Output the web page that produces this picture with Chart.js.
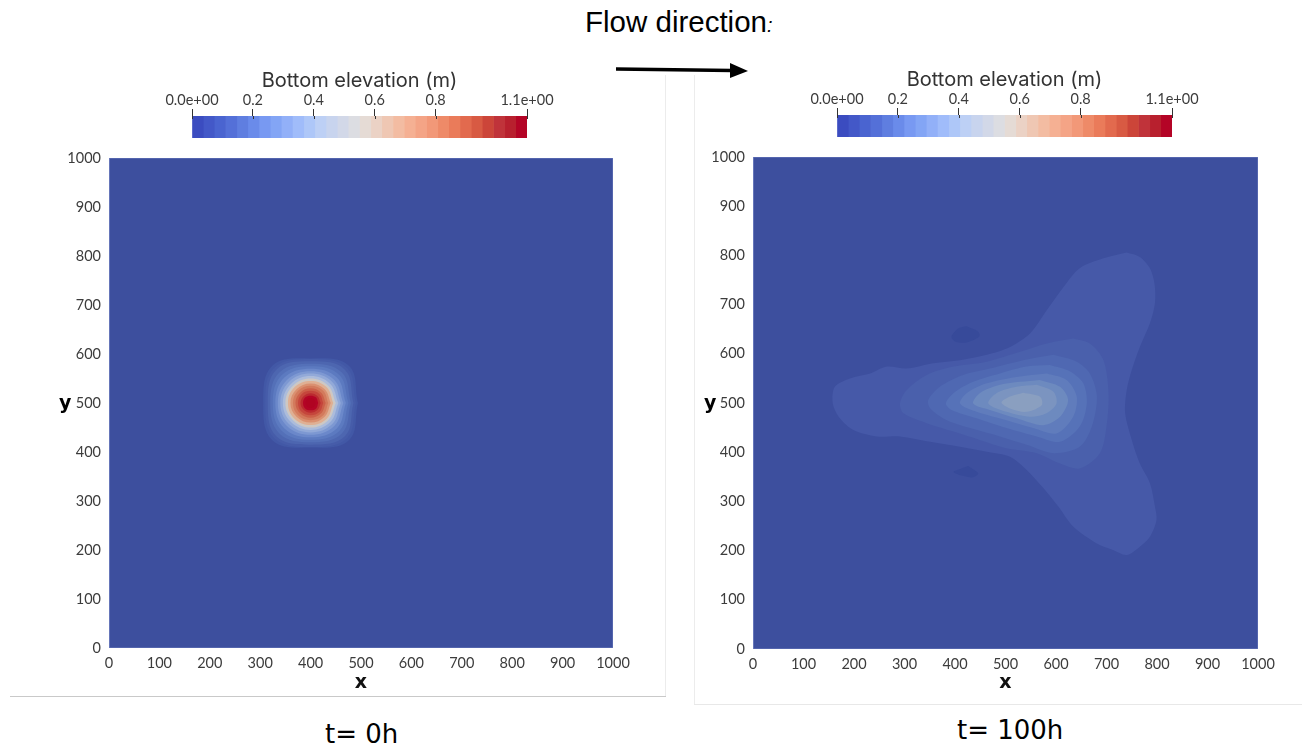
<!DOCTYPE html>
<html>
<head>
<meta charset="utf-8">
<title>Bottom elevation</title>
<script src="https://cdn.jsdelivr.net/npm/chart.js@4"></script>
<style>
  html, body { margin:0; padding:0; background:#fff; width:1302px; height:747px; overflow:hidden; }
  canvas { position:absolute; filter:blur(0.5px); }
  .txt { position:absolute; white-space:nowrap; color:#000; }
  .rule { position:absolute; }
</style>
</head>
<body>
<div class="rule" style="left:665px;top:75px;width:1px;height:621px;background:#ececec"></div>
<div class="rule" style="left:10px;top:696px;width:656px;height:1px;background:#c9c9c9"></div>
<div class="rule" style="left:694px;top:75px;width:1px;height:630px;background:#ececec"></div>
<div class="rule" style="left:694px;top:704px;width:608px;height:1px;background:#e8e8e8"></div>

<div class="txt" style="left:585px;top:5px;font:29.5px 'Liberation Sans'">Flow direction<span style="font-style:italic;font-size:20px">:</span></div>
<svg style="position:absolute;left:610px;top:58px" width="145" height="26">
  <line x1="6" y1="11" x2="122" y2="12.5" stroke="#000" stroke-width="3.5"/>
  <polygon points="120,5 138,13 120,20" fill="#000"/>
</svg>

<canvas id="barLeft" width="440" height="75" style="left:140px;top:65px"></canvas>
<canvas id="barRight" width="440" height="75" style="left:785px;top:64px"></canvas>
<canvas id="fieldLeft" width="575" height="550" style="left:55px;top:145px"></canvas>
<canvas id="fieldRight" width="575" height="550" style="left:700px;top:145px"></canvas>

<div class="txt" style="left:59px;top:391px;font:bold 19px 'DejaVu Sans'">y</div>
<div class="txt" style="left:704px;top:391px;font:bold 19px 'DejaVu Sans'">y</div>
<div class="txt" style="left:325px;top:719px;font:26px 'DejaVu Sans'">t= 0h</div>
<div class="txt" style="left:957px;top:715px;font:26px 'DejaVu Sans'">t= 100h</div>

<script>
const TICK_FONT = "Lato";

// colour bar
const barTitle = "Bottom elevation (m)";
const barTicks = [0, 0.2, 0.4, 0.6, 0.8, 1.1];
const barTickLabels = ["0.0e+00", "0.2", "0.4", "0.6", "0.8", "1.1e+00"];
const bandEdges = [0, .037, .073, .11, .147, .183, .22, .257, .293, .33, .367, .403, .44, .477, .513, .55,
  .587, .623, .66, .697, .733, .77, .807, .843, .88, .917, .953, .99, 1.027, 1.063, 1.1];
const bandColors = ["#3b4cc0","#4358c8","#4a64d0","#5470d8","#5f7ee0","#6a8bea","#7899f2","#83a5f5","#92b0f8","#a0bcfa",
  "#aec7f8","#bdd0f5","#c8d4ee","#d2d8e8","#dcdde2","#e5dbd5","#ebd2c5","#efc7b3","#f3bca2","#f5b093",
  "#f4a486","#f29878","#ee8a68","#ea7b5a","#e26a4e","#d85a43","#cc4539","#c0333a","#b8202e","#b40426"];

// axes of both fields
const axisTicks = [0, 100, 200, 300, 400, 500, 600, 700, 800, 900, 1000];
const domainOutline = [[0,0],[1000,0],[1000,1000],[0,1000],[0,0]];
const domainColor = "#3d4f9e";

// t = 0h, contours, outermost first
const t0Contours = [
  [[494,500],[476,576],[400,591],[324,576],[306,500],[324,424],[400,409],[476,424],[494,500]],
  [[490,500],[472,572],[400,590],[328,572],[310,500],[328,428],[400,410],[472,428],[490,500]],
  [[485,500],[468,568],[400,585],[332,568],[315,500],[332,432],[400,415],[468,432],[485,500]],
  [[480,500],[462,562],[400,580],[338,562],[320,500],[338,438],[400,420],[462,438],[480,500]],
  [[475,500],[457,557],[400,575],[343,557],[325,500],[343,443],[400,425],[457,443],[475,500]],
  [[470,500],[452,552],[400,570],[348,552],[330,500],[348,448],[400,430],[452,448],[470,500]],
  [[465,500],[447,547],[400,565],[353,547],[335,500],[353,453],[400,435],[447,453],[465,500]],
  [[460,500],[443,543],[400,560],[357,543],[340,500],[357,457],[400,440],[443,457],[460,500]],
  [[455,500],[439,539],[400,555],[361,539],[345,500],[361,461],[400,445],[439,461],[455,500]],
  [[450,500],[435,535],[400,550],[365,535],[350,500],[365,465],[400,450],[435,465],[450,500]],
  [[445,500],[432,532],[400,545],[368,532],[355,500],[368,468],[400,455],[432,468],[445,500]],
  [[440,500],[428,528],[400,540],[372,528],[360,500],[372,472],[400,460],[428,472],[440,500]],
  [[435,500],[425,525],[400,535],[375,525],[365,500],[375,475],[400,465],[425,475],[435,500]],
  [[430,500],[421,521],[400,530],[379,521],[370,500],[379,479],[400,470],[421,479],[430,500]],
  [[425,500],[418,518],[400,525],[382,518],[375,500],[382,482],[400,475],[418,482],[425,500]],
  [[420,500],[414,514],[400,520],[386,514],[380,500],[386,486],[400,480],[414,486],[420,500]],
  [[415,500],[411,511],[400,515],[389,511],[385,500],[389,489],[400,485],[411,489],[415,500]],
  [[410,500],[407,507],[400,510],[393,507],[390,500],[393,493],[400,490],[407,493],[410,500]]
];
const t0Colors = ["#4258a6","#465ca9","#4d66b0","#5470b8","#5c7ac0","#6b88ca","#7d98d2","#92a9d8","#acbcdb",
  "#cdc8c4","#dfb094","#da9070","#d37a5c","#cc6049","#c5463c","#bb2a30","#b40426","#b00322"];

// t = 100h, contours, outermost first
const t100Contours = [
  [[740,806],[766,797],[786,774],[795,743],[796,703],[786,662],[766,614],[750,567],[740,526],[737,479],[750,425],[766,377],
   [786,337],[796,289],[799,262],[786,228],[766,208],[740,191],[713,201],[680,215],[634,249],[605,289],[575,327],[542,364],[509,391],
   [463,401],[410,411],[351,421],[291,432],[245,432],[199,445],[172,469],[158,499],[162,533],[192,550],[232,560],[265,574],
   [304,570],[357,581],[410,587],[463,598],[509,614],[549,642],[582,689],[615,736],[647,774],[694,794],[740,806]],
  [[634,631],[667,621],[694,587],[704,520],[700,452],[687,398],[647,367],[608,377],[562,398],[502,408],[449,425],[397,442],
   [344,459],[298,479],[291,499],[304,526],[344,557],[397,574],[463,584],[529,604],[582,621],[634,631]],
  [[595,598],[641,584],[667,560],[681,513],[671,452],[647,411],[595,398],[542,415],[489,432],[430,449],[384,465],[351,489],
   [347,506],[370,533],[416,557],[469,570],[535,587],[595,598]],
  [[588,577],[628,564],[654,540],[661,499],[647,452],[608,421],[562,432],[502,449],[443,469],[393,486],[382,499],[397,520],
   [436,543],[489,560],[542,574],[588,577]],
  [[582,560],[621,547],[641,513],[634,472],[601,438],[555,449],[502,465],[443,482],[410,499],[423,520],[463,540],[522,553],[582,560]],
  [[568,547],[608,533],[624,506],[608,472],[575,455],[522,469],[469,486],[436,499],[449,520],[489,537],[529,543],[568,547]],
  [[562,537],[595,523],[601,499],[581,479],[549,472],[502,482],[466,499],[482,520],[522,533],[562,537]],
  [[535,521],[568,513],[572,496],[542,482],[509,489],[492,501],[509,513],[535,521]],
  [[423,656],[446,645],[448,635],[423,623],[400,625],[393,635],[407,652],[423,656]],
  [[426,372],[446,357],[436,349],[416,352],[397,360],[413,367],[426,372]]
];
const t100Colors = ["#4659a8","#4a60ac","#4f68b2","#5672b8","#607cbc","#6d8abf","#7b94c0","#8a9fc0","#374a9a","#374a9a"];

function toPoints(list) {
  return list.map(p => ({x:p[0], y:p[1]}));
}

function makeField(id, contours, colors, tension, yWidth, xHeight, padTop) {
  const datasets = [{
    data: toPoints(domainOutline), showLine:true, fill:"shape", backgroundColor:domainColor,
    borderColor:"#6d7dbd", borderWidth:1, pointRadius:0, tension:0
  }];
  contours.forEach((c,i) => {
    datasets.push({
      data: toPoints(c), showLine:true, fill:"shape", backgroundColor:colors[i],
      borderWidth:0, pointRadius:0, tension:tension
    });
  });
  datasets.reverse(); // first dataset is painted last

  const tickStyle = {
    color:"#3c3c3c", font:{family:TICK_FONT, size:14.5}, autoSkip:false, maxRotation:0,
    callback:v => String(v)
  };
  // no extra room for the outer tick labels, the plot box has to stay put
  const noLabelRoom = s => { s.paddingLeft = s.paddingRight = s.paddingTop = s.paddingBottom = 0; };
  return new Chart(document.getElementById(id), {
    type:"scatter",
    data:{datasets},
    options:{
      responsive:false, animation:false,
      layout:{padding:{top:padTop, right:17, left:0, bottom:0}},
      plugins:{legend:{display:false}, tooltip:{enabled:false}},
      scales:{
        x:{
          type:"linear", min:0, max:1000,
          afterBuildTicks:s => { s.ticks = axisTicks.map(v => ({value:v})); },
          afterFit:s => { s.height = xHeight; noLabelRoom(s); },
          grid:{display:false, drawTicks:false}, border:{display:false},
          ticks:{...tickStyle, padding:7},
          title:{display:true, text:"x", color:"#111", font:{family:"DejaVu Sans", size:19, weight:"bold"}, padding:{top:0,bottom:1}}
        },
        y:{
          type:"linear", min:0, max:1000,
          afterBuildTicks:s => { s.ticks = axisTicks.map(v => ({value:v})); },
          afterFit:s => { s.width = yWidth; noLabelRoom(s); },
          grid:{display:false, drawTicks:false}, border:{display:false},
          ticks:{...tickStyle, padding:8}
        }
      }
    }
  });
}

// short inner part of the colour bar ticks
const innerTicks = {
  id:"innerTicks",
  afterDatasetsDraw(chart) {
    const s = chart.scales.x, ctx = chart.ctx;
    ctx.save();
    ctx.strokeStyle = "#333";
    ctx.lineWidth = 1;
    barTicks.forEach(v => {
      const px = Math.round(s.getPixelForValue(v)) + 0.5;
      ctx.beginPath();
      ctx.moveTo(px, chart.chartArea.top);
      ctx.lineTo(px, chart.chartArea.top + 3);
      ctx.stroke();
    });
    ctx.restore();
  }
};

function makeBar(id) {
  const datasets = bandColors.map((c,i) => ({
    data:[[bandEdges[i], bandEdges[i+1]]], backgroundColor:c, borderWidth:0,
    barPercentage:1, categoryPercentage:1, grouped:false
  }));
  return new Chart(document.getElementById(id), {
    type:"bar",
    data:{labels:[barTitle], datasets},
    plugins:[innerTicks],
    options:{
      indexAxis:"y", responsive:false, animation:false,
      layout:{padding:{left:52, right:53, top:0, bottom:2}},
      plugins:{legend:{display:false}, tooltip:{enabled:false}},
      scales:{
        x:{
          type:"linear", position:"top", min:0, max:1.1,
          afterBuildTicks:s => { s.ticks = barTicks.map(v => ({value:v})); },
          afterFit:s => { s.height = 51; },
          grid:{drawOnChartArea:false, drawTicks:true, tickLength:7, color:"#333"},
          border:{display:false},
          ticks:{
            color:"#3c3c3c", font:{family:TICK_FONT, size:14.5}, padding:0, autoSkip:false, maxRotation:0,
            callback:(v) => barTickLabels[barTicks.indexOf(v)]
          },
          title:{display:true, text:barTitle, color:"#333", font:{family:"Inter", size:20}, padding:{top:4,bottom:0}}
        },
        y:{display:false}
      }
    }
  });
}

makeBar("barLeft");
makeBar("barRight");
makeField("fieldLeft", t0Contours, t0Colors, 0.4, 54, 47, 13);
makeField("fieldRight", t100Contours, t100Colors, 0.3, 53, 46, 12);
</script>
</body>
</html>
